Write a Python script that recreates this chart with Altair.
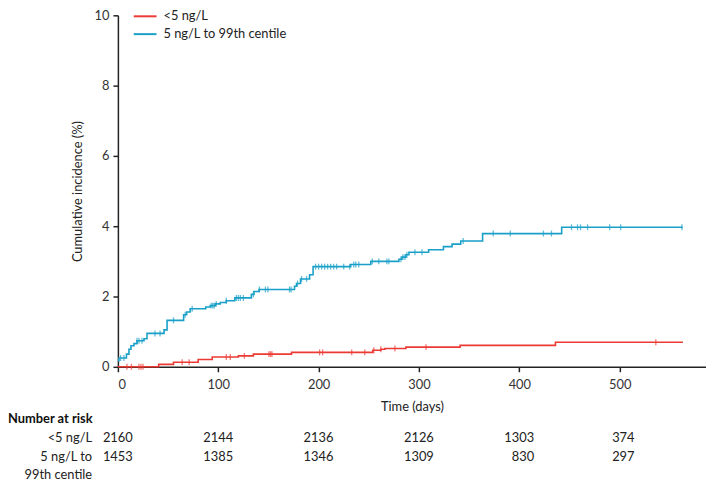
import altair as alt
import pandas as pd

# ---- data ----
SERIES = ["<5 ng/L", "5 ng/L to 99th centile"]
COLORS = ["#ec3b35", "#1aa0c8"]

red_days = [0, 40.6, 55.4, 80, 94, 120, 135, 173, 254, 262, 266, 287, 341, 436, 563]
red_vals = [0, 0.07, 0.13, 0.21, 0.28, 0.31, 0.36, 0.41, 0.47, 0.50, 0.52, 0.56, 0.61, 0.70, 0.70]

blue_days = [0, 1, 8.5, 11, 13, 16, 19, 26, 29, 46, 49, 65.5, 68.5, 72, 87.5, 92, 97, 102,
             108, 116.5, 133, 135.6, 140.6, 176, 178, 182, 191, 194.5, 232, 252, 280, 283,
             287, 290, 309.6, 324.4, 333, 341.6, 363.4, 442.2, 562.7]
blue_vals = [0.17, 0.25, 0.36, 0.5, 0.6, 0.66, 0.74, 0.8, 0.95, 1.05, 1.32, 1.48, 1.56, 1.65,
             1.70, 1.74, 1.79, 1.83, 1.88, 1.96, 2.06, 2.14, 2.2, 2.29, 2.37, 2.5, 2.62, 2.85,
             2.91, 3.0, 3.06, 3.12, 3.19, 3.26, 3.33, 3.42, 3.49, 3.58, 3.79, 3.97, 3.97]

red_censor = [9, 13.5, 21, 23, 25, 64, 71, 108, 112, 126, 150.5, 152, 153.5, 201, 204, 233,
              246, 255, 262, 276, 307, 536]
blue_censor = [2.7, 6, 19, 21, 24, 37, 42, 55.4, 67, 74, 93, 94.5, 96, 98, 108, 118, 120, 122,
               125, 135, 141, 147, 149.5, 171, 172.6, 179, 183, 188, 197, 200, 203, 206, 209,
               212, 215, 218, 225, 231, 235, 237, 240, 253.5, 260, 268, 270, 282, 284, 286,
               288, 296, 303, 344, 374, 391, 424, 432, 452, 458, 461, 468, 490, 501, 562]

risk_days = [0, 100, 200, 300, 400, 500]
risk_red = [2160, 2144, 2136, 2126, 1303, 374]
risk_blue = [1453, 1385, 1346, 1309, 830, 297]

FONT = "Lato"

# ---- tables ----
curves = pd.concat([
    pd.DataFrame({"day": red_days, "inc": red_vals, "group": SERIES[0]}),
    pd.DataFrame({"day": blue_days, "inc": blue_vals, "group": SERIES[1]}),
])


def step_value(days, vals, d):
    v = vals[0]
    for dd, vv in zip(days, vals):
        if dd <= d:
            v = vv
    return v


cens = pd.concat([
    pd.DataFrame({"day": red_censor,
                  "inc": [step_value(red_days, red_vals, d) for d in red_censor],
                  "group": SERIES[0]}),
    pd.DataFrame({"day": blue_censor,
                  "inc": [step_value(blue_days, blue_vals, d) for d in blue_censor],
                  "group": SERIES[1]}),
])

risk_r = pd.DataFrame({"day": risk_days, "n": [str(v) for v in risk_red]})
risk_b = pd.DataFrame({"day": risk_days, "n": [str(v) for v in risk_blue]})

legend_df = pd.DataFrame({"group": SERIES, "ly": [1, 19]})

xscale = alt.Scale(domain=[0, 586], nice=False, zero=False)
yscale = alt.Scale(domain=[0, 10], nice=False)
cscale = alt.Scale(domain=SERIES, range=COLORS)

x_enc = alt.X("day:Q", scale=xscale,
              axis=alt.Axis(values=[0, 100, 200, 300, 400, 500], title="Time (days)",
                            grid=False, tickSize=5, labelPadding=7, titlePadding=9,
                            domainWidth=1.5, tickWidth=1.5))
y_enc = alt.Y("inc:Q", scale=yscale,
              axis=alt.Axis(values=[0, 2, 4, 6, 8, 10], title="Cumulative incidence (%)",
                            grid=False, tickSize=5, labelPadding=4, titlePadding=10,
                            domainWidth=1.5, tickWidth=1.5))

lines = alt.Chart(curves).mark_line(interpolate="step-after", strokeWidth=1.6).encode(
    x=x_enc, y=y_enc,
    color=alt.Color("group:N", scale=cscale, legend=None),
    detail="group:N",
)

ticks = alt.Chart(cens).mark_tick(orient="vertical", size=6, thickness=1.3).encode(
    x=alt.X("day:Q", scale=xscale),
    y=alt.Y("inc:Q", scale=yscale),
    color=alt.Color("group:N", scale=cscale, legend=None),
)

# legend drawn as rules + labels in the top-left of the plot
leg_lines = alt.Chart(legend_df).mark_rule(strokeWidth=2).encode(
    x=alt.value(16), x2=alt.value(39), y=alt.Y("ly:Q", scale=None),
    color=alt.Color("group:N", scale=cscale, legend=None),
)
leg_text = alt.Chart(legend_df).mark_text(
    align="left", baseline="middle", fontSize=13, font=FONT, color="#222").encode(
    x=alt.value(46), y=alt.Y("ly:Q", scale=None), text="group:N")

ROW0 = 408
ROW1 = 427
ROW2 = 446
ROW3 = 464
LABEL_X = 85 - 111

hdr = alt.Chart(pd.DataFrame({"t": ["Number at risk"]})).mark_text(
    align="left", baseline="middle", fontSize=13, fontWeight="bold", font=FONT,
    color="#111").encode(x=alt.value(-111), y=alt.value(ROW0), text="t:N")

rowlabels = alt.Chart(pd.DataFrame({"t": ["<5 ng/L", "5 ng/L to", "99th centile"],
                                    "yy": [ROW1, ROW2, ROW3]})).mark_text(
    align="right", baseline="middle", fontSize=13, font=FONT, color="#222").encode(
    x=alt.value(LABEL_X), y=alt.Y("yy:Q", scale=None), text="t:N")

nums_r = alt.Chart(risk_r).mark_text(align="right", baseline="middle", dx=15,
                                     fontSize=13, font=FONT, color="#222").encode(
    x=alt.X("day:Q", scale=xscale), y=alt.value(ROW1), text="n:N")
nums_b = alt.Chart(risk_b).mark_text(align="right", baseline="middle", dx=15,
                                     fontSize=13, font=FONT, color="#222").encode(
    x=alt.X("day:Q", scale=xscale), y=alt.value(ROW2), text="n:N")

chart = alt.layer(lines, ticks, leg_lines, leg_text, hdr, rowlabels, nums_r, nums_b).properties(
    width=594, height=355,
    autosize=alt.AutoSizeParams(type="none"),
    padding={"left": 111, "top": 5, "right": 0, "bottom": 118},
).configure_view(stroke=None).configure_axis(
    labelFont=FONT, titleFont=FONT, labelFontSize=13, titleFontSize=13,
    labelColor="#333", titleColor="#222", domainColor="#222", tickColor="#222",
    titleFontWeight="normal",
)

chart.save("out.html", embed_options={"renderer": "svg", "actions": False})
